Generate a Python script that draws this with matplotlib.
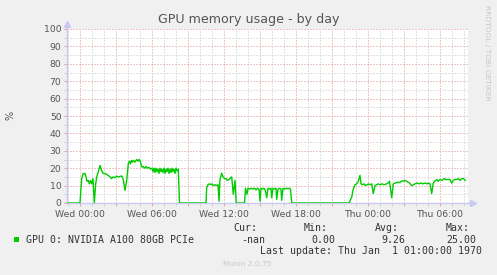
import matplotlib
matplotlib.use("Agg")
import matplotlib.pyplot as plt
from matplotlib.patches import Rectangle

# minutes since Wed 00:00, GPU memory usage in %
minutes = [
    -65, 0, 8.5, 15, 25, 30, 35, 41.5, 46.5, 52.5, 58.5, 65, 71.5, 78.5, 83.5,
    91.5, 100, 108.5, 116.5, 125, 133.5, 141.5, 150, 157.5, 166.5, 175, 183.5,
    190, 200, 208.5, 216.5, 225, 233.5, 241.5, 247.5, 252.5, 257.5, 262.5,
    267.5, 275, 283.5, 290, 295, 300, 308.5, 315, 322.5, 330, 337.5, 345,
    352.5, 360, 365, 370, 375, 380, 385, 390, 395, 400, 405, 410, 415, 420,
    425, 430, 435, 440, 445, 450, 455, 460, 465, 470, 475, 480, 485, 491.5,
    497.5, 630,
    633.5, 640, 647.5, 655, 660, 667.5, 675, 685, 690, 695, 700, 708.5, 715,
    722.5, 730, 737.5, 745, 752.5, 758.5, 766.5, 775, 781, 822.5,
    827.5, 835, 840, 850, 857.5, 865, 872.5, 880, 887.5, 895, 900, 905, 912.5,
    920, 927.5, 933.5, 940, 947.5, 955, 958.5, 965, 972.5, 980, 983.5, 990,
    997.5, 1005, 1008.5, 1015, 1022.5, 1030, 1037.5, 1045, 1052.5, 1058.5,
    1345,
    1358.5, 1366.5, 1375, 1383.5, 1391.5, 1400, 1405, 1412.5, 1420, 1427.5,
    1435, 1442.5, 1450, 1458.5, 1466.5, 1475, 1483.5, 1491.5, 1500, 1510,
    1520, 1533.5, 1540, 1547.5, 1558.5, 1566.5, 1575, 1583.5, 1592.5, 1600,
    1608.5, 1617.5, 1625, 1633.5, 1640, 1647.5, 1658.5, 1667.5, 1675, 1685,
    1695, 1705, 1715, 1725, 1735, 1742.5, 1750, 1758.5, 1766.5, 1775, 1783.5,
    1790, 1800, 1810, 1820, 1830, 1840, 1850, 1858.5, 1866.5, 1875, 1883.5,
    1892.5, 1900, 1908.5, 1917.5, 1926.5,
]
usage = [
    0, 0, 14, 16.8, 17, 15, 12.5, 13, 11, 13, 11, 14, 0, 11, 15,
    17.8, 21.6, 18.5, 17, 16.8, 16.5, 15.8, 15, 14, 15, 14.5, 15.5,
    15, 15.3, 15.5, 13.5, 7.3, 13, 22.6, 24, 22.5, 24.5, 23.5,
    24.5, 23.5, 25, 24, 25, 24.5, 20.7, 21, 20, 21, 20, 20.5,
    19.5, 20, 18, 20, 17.5, 20, 18, 19.5, 17, 20, 18, 19.5, 17.5, 20,
    17, 19.5, 18, 20, 17, 19.5, 17.5, 20, 18, 19.5, 17, 20, 18.5, 19.5,
    0, 0,
    8.8, 10.5, 11, 10.5, 11, 10, 10.5, 10, 10.5, 1, 13.5, 17.2, 15,
    14, 14, 13, 13.5, 14.5, 15, 5, 13, 0, 0,
    8.5, 5, 8.5, 8, 8.5, 8, 8.5, 7.5, 8.5, 8, 1, 8.5, 8,
    8.5, 7, 3, 8.5, 8, 8.5, 3, 8.5, 8, 8.5, 2, 8,
    8.5, 8, 1.5, 8.5, 8, 8.5, 8.2, 8.5, 8, 0,
    0,
    3.4, 8, 10.5, 11, 12.5, 15.9, 11, 10.5, 11, 10,
    10.5, 11, 10.5, 11, 5.4, 10, 10.5, 11, 10.5, 11,
    10.5, 11, 11.5, 12.5, 3, 11, 11.5, 11.7, 12, 11.7,
    12.7, 12.5, 13, 12.5, 12, 11.5, 10, 10.5, 11, 11.5,
    11, 11.5, 11, 11.5, 11, 11.5, 11, 5.4, 11.5, 12.7, 13.5,
    12.5, 13.5, 13, 14, 13.5, 13.5, 13.5, 11.4, 13, 13.5, 13.5,
    14, 13, 14, 14, 13,
]

tick_pos = [0, 360, 720, 1080, 1440, 1800]
tick_labels = ["Wed 00:00", "Wed 06:00", "Wed 12:00", "Wed 18:00", "Thu 00:00", "Thu 06:00"]
y_ticks = [0, 10, 20, 30, 40, 50, 60, 70, 80, 90, 100]

series_name = "GPU 0: NVIDIA A100 80GB PCIe"
cur_val, min_val, avg_val, max_val = "-nan", "0.00", "9.26", "25.00"

W, H = 497, 275
BG = "#f0f0f0"
MONO = "DejaVu Sans Mono"


def fx(x):
    return x / W


def fy(y):
    return 1 - y / H


fig = plt.figure(figsize=(W / 100, H / 100), dpi=100, facecolor=BG)
ax = fig.add_axes([fx(67), fy(203), (468 - 67) / W, (203 - 29) / H])
ax.set_facecolor("white")

ax.set_xlim(-65, 1940)
ax.set_ylim(0, 100)

# grid: red every 3h / 10%, grey every 1h / 5%
major_x = list(range(0, 1940, 180))
ax.set_xticks(major_x)
ax.set_xticklabels([tick_labels[tick_pos.index(m)] if m in tick_pos else "" for m in major_x])
ax.set_xticks(list(range(-60, 1940, 60)), minor=True)
ax.set_yticks(y_ticks)
ax.set_yticks(list(range(5, 100, 10)), minor=True)

ax.grid(which="major", color="#e08f8f", lw=0.72, ls=(0, (1, 2)))
ax.grid(which="minor", color="#c4c4c4", lw=0.72, ls=(0, (1, 2)))
ax.set_axisbelow(True)

ax.tick_params(which="major", length=2, width=0.8, color="#e6a3a3",
               labelsize=6.7, labelcolor="#555555", pad=2)
ax.tick_params(which="minor", length=2, width=0.8, color="#d4d4d4")
ax.tick_params(axis="x", pad=3)

for s in ["top", "right"]:
    ax.spines[s].set_visible(False)
for s in ["left", "bottom"]:
    ax.spines[s].set_color("#c8c8f4")
    ax.spines[s].set_linewidth(1)

# axis arrows
ax.plot([0], [1.03], marker="^", color="#c8c8f4", ms=4, transform=ax.transAxes, clip_on=False)
ax.plot([0, 0], [1.0, 1.03], color="#c8c8f4", lw=1, transform=ax.transAxes, clip_on=False)
ax.plot([1.0, 1.01], [0, 0], color="#c8c8f4", lw=1, transform=ax.transAxes, clip_on=False)
ax.plot([1.012], [0], marker=">", color="#c8c8f4", ms=4, transform=ax.transAxes, clip_on=False)

ax.plot(minutes, usage, color="#00cc00", lw=1.0, zorder=5)

# texts
fig.text(fx(248.5), fy(19), "GPU memory usage - by day", ha="center", va="center",
         fontsize=9.1, color="#555555")
fig.text(fx(10), fy(115), "%", rotation=90, ha="center", va="center",
         fontsize=7, color="#555555")
fig.text(fx(487), fy(53), "RRDTOOL / TOBI OETIKER", rotation=270, ha="center", va="center",
         fontsize=5.4, color="#c8c8c8")

fig.patches.append(Rectangle((fx(14), fy(242)), 5 / W, 5 / H, transform=fig.transFigure,
                             facecolor="#00cc00", edgecolor="none"))
fig.text(fx(26), fy(240), series_name, ha="left", va="center", family=MONO,
         fontsize=7.1, color="#333333")

hdr_y, val_y = 228, 240
for label, value, hx, vx in [("Cur:", cur_val, 257, 265), ("Min:", min_val, 328, 335),
                             ("Avg:", avg_val, 399, 405.7), ("Max:", max_val, 470, 476.7)]:
    fig.text(fx(hx), fy(hdr_y), label, ha="right", va="center", family=MONO,
             fontsize=7.1, color="#333333")
    fig.text(fx(vx), fy(val_y), value, ha="right", va="center", family=MONO,
             fontsize=7.1, color="#333333")

fig.text(fx(482.3), fy(251.5), "Last update: Thu Jan  1 01:00:00 1970", ha="right",
         va="center", family=MONO, fontsize=7.1, color="#333333")
fig.text(fx(247.5), fy(264.5), "Munin 2.0.75", ha="center", va="center",
         fontsize=5.3, color="#c8c8c8")

fig.savefig("out.png", dpi=100, facecolor=BG)
